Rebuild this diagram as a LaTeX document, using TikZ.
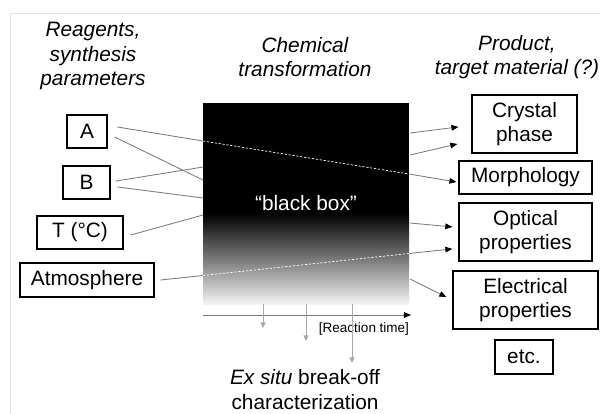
\documentclass[tikz,border=0pt]{standalone}
\usepackage{fontspec}
\setmainfont{Liberation Sans}
\usetikzlibrary{arrows.meta}
\definecolor{wiregray}{HTML}{7A7A7A}
\definecolor{tickgray}{HTML}{A8A8A8}
\definecolor{framegray}{HTML}{E2E2E2}

\begin{document}
\begin{tikzpicture}[x=0.025cm, y=-0.025cm,
    every node/.style={font=\fontsize{14.8}{17.1}\selectfont},
    heading/.style={align=center, font=\fontsize{14.8}{17.1}\selectfont\itshape},
    itembox/.style={draw, line width=0.8pt, align=center, inner sep=0pt},
    wire/.style={draw=wiregray, line width=0.6pt},
    through/.style={draw=white, line width=0.5pt, dash pattern=on 1.6pt off 1.2pt},
    outwire/.style={wire, -{Triangle[length=5pt, width=4pt, color=black]}},
    sampling/.style={draw=tickgray, line width=0.6pt, -{Triangle[length=4pt, width=3.6pt, color=tickgray]}}]
    \useasboundingbox (0,0) rectangle (600,414);
    \draw[framegray, line width=0.6pt] (10,414) -- (10,13) -- (600,13);

    % headings
    \node[heading] (hin) at (93,56) {Reagents,\\synthesis\\parameters};
    \node[heading] (hmid) at (305,57.5) {Chemical\\transformation};
    \node[heading] (hout) at (517,57.5) {Product,\\target material (?)};

    % the black box
    \fill[black] (203,103) rectangle (409,214);
    \shade[top color=black, bottom color=black!5] (203,213) rectangle (409,304);
    \node[text=white, minimum width=5.15cm, minimum height=5.025cm] (bbox) at (306,203.5) {“black box”};

    % inputs
    \node[itembox, minimum width=1cm, minimum height=0.825cm] (A) at (87,131.5) {A};
    \node[itembox, minimum width=1.175cm, minimum height=0.825cm] (B) at (86.5,182.5) {B};
    \node[itembox, minimum width=2.15cm, minimum height=0.825cm] (T) at (80,232.5) {T (°C)};
    \node[itembox, minimum width=3.35cm, minimum height=0.85cm] (atm) at (87,280) {Atmosphere};

    % outputs
    \node[itembox, minimum width=2.625cm, minimum height=1.45cm] (crystal) at (524.5,124) {Crystal\\phase};
    \node[itembox, minimum width=3.325cm, minimum height=0.825cm] (morph) at (525.5,177.5) {Morphology};
    \node[itembox, minimum width=3.325cm, minimum height=1.45cm] (optic) at (525.5,232) {Optical\\properties};
    \node[itembox, minimum width=3.625cm, minimum height=1.45cm] (elec) at (525.5,300) {Electrical\\properties};
    \node[itembox, minimum width=1.45cm, minimum height=0.85cm] (etc) at (524,357) {etc.};

    % points on the box edges
    \coordinate (inA1) at (203,141);
    \coordinate (inA2) at (203,180);
    \coordinate (inB1) at (203,167);
    \coordinate (inB2) at (203,198);
    \coordinate (inT) at (203,215);
    \coordinate (inAtm) at (203,275.5);
    \coordinate (outA) at (409,174);
    \coordinate (outAtm) at (409,253.5);
    \coordinate (out1) at (410,133);
    \coordinate (out2) at (410,155);
    \coordinate (out3) at (410,223);
    \coordinate (out4) at (410,279);

    \draw[wire] ([xshift=7pt,yshift=3.2pt]A.east) -- (inA1);
    \draw[through] (inA1) -- (outA);
    \draw[outwire] (outA) -- ([xshift=-1.4pt,yshift=-3.2pt]morph.west);
    \draw[wire] ([xshift=5pt,yshift=-3.9pt]A.east) -- (inA2);
    \draw[wire] ([xshift=3.6pt,yshift=1pt]B.east) -- (inB1);
    \draw[wire] ([xshift=5pt,yshift=-3.2pt]B.east) -- (inB2);
    \draw[wire] ([xshift=5pt,yshift=-1.8pt]T.east) -- (inT);
    \draw[wire] ([xshift=4.3pt]atm.east) -- (inAtm);
    \draw[through] (inAtm) -- (outAtm);
    \draw[outwire] (outAtm) -- ([xshift=-4.3pt,yshift=-12pt]optic.west);

    \draw[outwire] (out1) -- ([xshift=-9.2pt,yshift=-2.1pt]crystal.west);
    \draw[outwire] (out2) -- ([xshift=-10pt,yshift=-14.2pt]crystal.west);
    \draw[outwire] (out3) -- ([xshift=-4.3pt,yshift=3.6pt]optic.west);
    \draw[outwire] (out4) -- ([xshift=-4.3pt,yshift=2.1pt]elec.west);

    % time axis and break-off sampling
    \coordinate (t0) at (203,315);
    \coordinate (t1) at (411,315);
    \draw[wire, -{Triangle[length=5pt, width=4pt, color=black]}] (t0) -- (t1);
    \node[font=\fontsize{9.6}{11}\selectfont] (rtime) at (364,329) {[Reaction time]};
    \coordinate (s1) at (263,304);
    \coordinate (s2) at (306,304);
    \coordinate (s3) at (352,304);
    \draw[sampling] (s1) -- (263,328);
    \draw[sampling] (s2) -- (306,341);
    \draw[sampling] (s3) -- (352,363);
    \node[align=center, font=\fontsize{14.8}{17.8}\selectfont] (exsitu) at (305,389.5) {\textit{Ex situ} break-off\\characterization};
\end{tikzpicture}
\end{document}
